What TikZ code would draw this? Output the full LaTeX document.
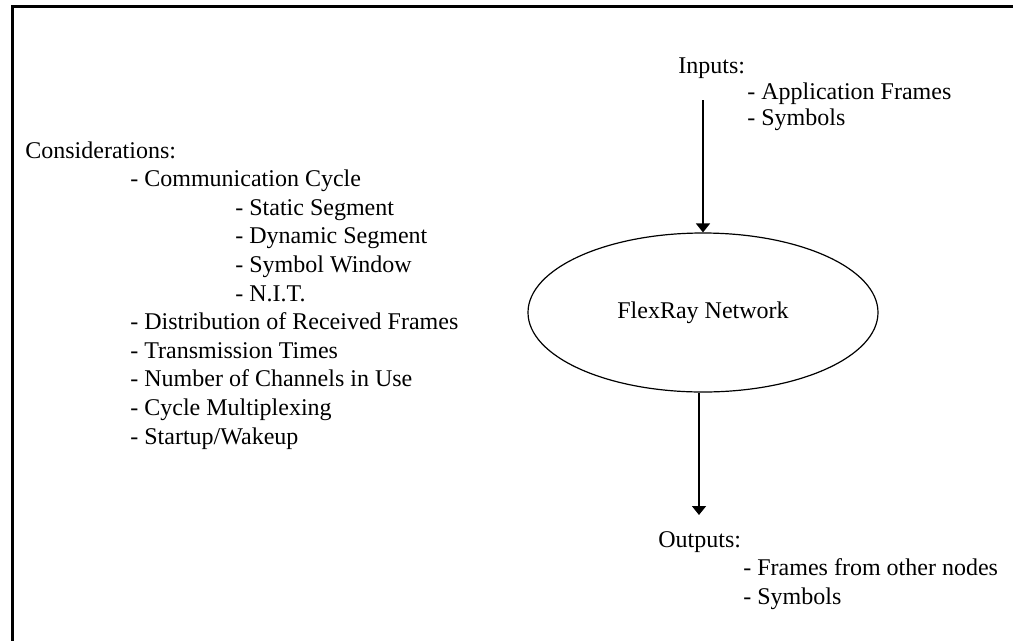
\documentclass[tikz,border=0pt]{standalone}
\usepackage{fontspec}
\setmainfont{Liberation Serif}
\usepackage{tikz}
\usetikzlibrary{arrows.meta,shapes.geometric}

\begin{document}
\begin{tikzpicture}[x=1pt,y=-1pt,
				thick,
				txt/.style={anchor=base west,inner sep=0pt,
					font=\fontsize{24}{28}\selectfont},
				net node/.style={ellipse,draw,line width=1.2pt,
					minimum width=350pt,minimum height=159pt,inner sep=0pt,
					font=\fontsize{24}{28}\selectfont},
				flow/.style={line width=1.6pt,-{Triangle[width=14pt,length=9pt]}}]
				
				\useasboundingbox (0,0) rectangle (1013,641);
				% frame, only top and left edge are inside the page
				\draw[line width=3pt] (1013,6.5) -- (12.5,6.5) -- (12.5,641);
				
				% considerations
				\node[txt] (cons) at (25,158) {Considerations:};
				\node[txt] (comm) at (130,186.6) {- Communication Cycle};
				\node[txt] (stat) at (235,215.2) {- Static Segment};
				\node[txt] (dyn) at (235,243.8) {- Dynamic Segment};
				\node[txt] (symw) at (235,272.4) {- Symbol Window};
				\node[txt] (nit) at (235,301) {- N.I.T.};
				\node[txt] (dist) at (130,329.6) {- Distribution of Received Frames};
				\node[txt] (trans) at (130,358.2) {- Transmission Times};
				\node[txt] (chan) at (130,386.8) {- Number of Channels in Use};
				\node[txt] (mux) at (130,415.4) {- Cycle Multiplexing};
				\node[txt] (wake) at (130,444) {- Startup/Wakeup};
				
				% inputs
				\node[txt] (in) at (678,73) {Inputs:};
				\node[txt] (inA) at (747,99) {- Application Frames};
				\node[txt] (inB) at (747,125) {- Symbols};
				
				% network
				\node[net node] (net) at (703,312.5) {FlexRay Network};
				\coordinate (inTop) at (703,100);
				\coordinate (outEnd) at (699,515);
				
				% outputs
				\node[txt] (out) at (658,547) {Outputs:};
				\node[txt] (outA) at (743,575.5) {- Frames from other nodes};
				\node[txt] (outB) at (743,604) {- Symbols};
				
				\draw[flow] (inTop) -- (net.north);
				\draw[flow] (net.south -| outEnd) -- (outEnd);
			\end{tikzpicture}
\end{document}
